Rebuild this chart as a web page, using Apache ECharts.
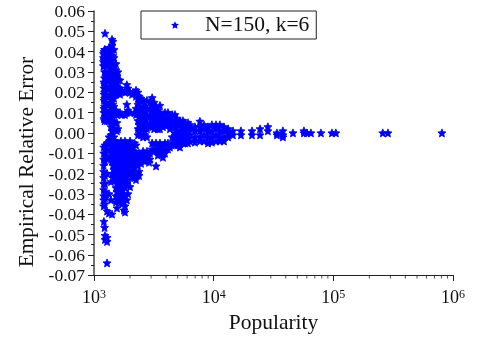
<!DOCTYPE html>
<html>
<head>
<meta charset="utf-8">
<style>
  html, body { margin: 0; padding: 0; background: #fff; }
  #chart { width: 485px; height: 339px; }
</style>
<script src="https://cdn.jsdelivr.net/npm/echarts@6/dist/echarts.min.js"></script>
</head>
<body>
<div id="chart"></div>
<script>
// popularity of each column of stars
const popularity = [
  1200, 1205, 1210, 1225, 1236, 1285, 1335, 1414, 1470, 1526, 1585, 1649, 1711, 1815, 1880,
  2000, 2120, 2245, 2380, 2570, 2770, 2890, 3060, 3300, 3558, 3770, 4150, 4500, 4750, 5225,
  5750, 6330, 6970, 7670, 8300, 8970, 9660, 10460, 11270, 12200, 13200, 14490, 16900, 20900,
  24400, 28400, 33800, 37900, 46000, 56800, 60200, 65000, 78800, 97300, 105000, 259000, 286000, 808000
];
// errors seen in each of those columns
const errors = [
  [.039, .037, .035, .033],
  [-.007, -.010, -.013, -.016, -.019, -.022, -.025, -.028, -.031, -.033, -.036],
  [.040, .036, .033, .025, .022, .019, .016, .012, .010, .007, -.0436],
  [.041, .038, .034, .030, .027, .024, .020, .017, .013, .010, .006, -.035, -.0466],
  [.049, .041, .037, .034, .030, .027, .023, .019, .015, .011, .008, -.006, -.010, -.014, -.021, -.025, -.029, -.032, -.0505, -.0525],
  [.040, .036, .033, .029, .026, .022, .018, .014, .010, .006, -.005, -.008, -.012, -.020, -.0385, -.0515, -.0535, -.064],
  [.042, .038, .034, .030, .026, .022, .018, .014, .010, .006, -.002, -.004, -.012, -.030, -.0395],
  [.046, .043, .040, .036, .032, .028, .024, .020, .016, .012, .008, .004, .001, -.003, -.006, -.010, -.014, -.020, -.040],
  [.041, .037, .033, .029, .025, .021, .017, .013, .009, .005, -.002, -.006, -.010, -.014, -.018, -.022],
  [.034, .031, .027, .023, .019, .011, -.007, -.011, -.015, -.019, -.023, -.027, -.031, -.034],
  [.030, .026, .022, .010, .002, -.005, -.009, -.013, -.017, -.021, -.025, -.029, -.033],
  [.026, .022, .019, .010, -.006, -.010, -.014, -.018, -.022, -.026, -.030],
  [.021, .009, -.007, -.011, -.015, -.019, -.023, -.028, -.032, -.035],
  [.020, .009, -.004, -.008, -.012, -.016, -.020, -.024, -.027, -.031, -.036, -.039],
  [.0237, .0205, .014, .010, -.005, -.009, -.013, -.017, -.021, -.025, -.033],
  [.020, .010, -.004, -.008, -.012, -.016, -.020, -.0265],
  [.020, -.007, -.011, -.015, -.019, -.022],
  [.021, .018, .012, .009, -.006, -.010, -.014, -.023],
  [.018, .015, .012, .008, .004, .001, -.010, -.014, -.019, -.021],
  [.016, .013, .010, .006, .003, -.002, -.009, -.013],
  [.016, .012, .009, .005, .002, -.002, -.009, -.012],
  [-.0145],
  [.0173, .014, .010, .006, .003, -.005, -.008],
  [.013, .010, .007, .004, -.005, -.008, -.0163],
  [.0135, .010, .007, .004, .002, -.005, -.007, -.010],
  [.009, .006, .003, -.006, -.009, -.012],
  [.010, .007, .004, -.005, -.008],
  [.009, .006, .003, -.002, -.005],
  [.009, .006, .003, .000, -.003, -.006],
  [.006, .004, .001, -.002, -.004, -.007],
  [.005, .003, .001, -.002, -.005],
  [.004, .002, -.001, -.004],
  [.003, .001, -.002, -.0046],
  [.0057, .003, .001, -.002, -.004],
  [.004, .002, -.001, -.004],
  [.003, .001, -.002, -.005],
  [.004, .001, -.002, -.0046],
  [.004, .002, -.001, -.004],
  [.004, .001, -.002, -.004],
  [.003, .001, -.002, -.004],
  [.002, .000, -.002],
  [.001, -.001],
  [.001, -.001],
  [.001, -.001],
  [.002, -.001],
  [.003, .001],
  [.000, -.001],
  [.001, -.001, -.002],
  [.000],
  [.000, .001],
  [.000],
  [.000],
  [.000],
  [.000],
  [.000],
  [.000],
  [.000],
  [.000]
];
// second pass over the dense part, columns between the ones above
const densePopularity = [1385, 1440, 1555, 1680, 1780, 1925, 2080, 2180, 2330, 2470, 2660, 2936, 3180, 3420, 3920, 4310, 4960, 5540, 6100];
const denseErrors = [
  [.035, .031, .027, .023, .019, .015, .011, .007, .003, -.001, -.005, -.008, -.013, -.024, -.033],
  [.045, .038, .034, .030, .026, .022, .018, .014, .010, .006, .002, -.004, -.008, -.012, -.016, -.020],
  [.028, .025, .021, .009, .005, .001, -.005, -.009, -.013, -.017, -.021, -.025, -.029, -.037],
  [-.004, -.008, -.012, -.016, -.020, -.024, -.030, -.034],
  [-.006, -.010, -.014, -.018, -.022, -.026, -.030, -.034, -.038],
  [.022, .011, -.007, -.011, -.015, -.019, -.023, -.030],
  [.019, -.006, -.010, -.014, -.018, -.021],
  [.010, -.005, -.009, -.013, -.017, -.022],
  [.020, .017, .014, .010, .006, .002, -.001, -.012, -.016, -.020],
  [.017, .011, .008, .005, .002, -.001, -.011, -.015],
  [.015, .011, .007, .004, .001, -.001, -.011, -.014],
  [.015, .012, .008, .004, -.010, -.013],
  [.015, .012, .008, .005, .002, -.009],
  [.011, .008, .005, .002, -.009, -.011],
  [.010, .007, .004, -.005, -.008, -.010],
  [.008, .005, .002, -.007],
  [.007, .004, .001, -.001, -.004, -.006],
  [.006, .003, .000, -.003, -.005],
  [.005, .002, -.001, -.003, -.005]
];
const minorTickValues = [2e3, 3e3, 4e3, 5e3, 6e3, 7e3, 8e3, 9e3, 2e4, 3e4, 4e4, 5e4, 6e4, 7e4, 8e4, 9e4, 2e5, 3e5, 4e5, 5e5, 6e5, 7e5, 8e5, 9e5];
const seriesName = "N=150, k=6";

// fatter than a true pentagram, the original marks are chunky
const starPath = "path://M50 0 L64 32 L98 35 L72 58 L80 92 L50 75 L20 92 L28 58 L2 35 L36 32Z";
const serif = "Liberation Serif";

let points = [];
function addColumns(xs, ys) {
  for (let i = 0; i < xs.length; i++) {
    for (let j = 0; j < ys[i].length; j++) {
      points.push([xs[i], ys[i][j]]);
    }
  }
}
addColumns(popularity, errors);
addColumns(densePopularity, denseErrors);

const chart = echarts.init(document.getElementById("chart"), null, { renderer: "canvas" });
chart.setOption({
  animation: false,
  backgroundColor: "#fff",
  grid: { left: 94, right: 32, top: 11, bottom: 62 },
  legend: {
    left: 141,
    top: 11,
    data: [{ name: seriesName, icon: starPath, itemStyle: { color: "#0000ff", borderWidth: 0 } }],
    itemWidth: 8,
    itemHeight: 8,
    padding: [3, 7, 3, 30],
    borderColor: "#222",
    borderWidth: 1,
    borderRadius: 0,
    textStyle: {
      fontFamily: serif,
      fontSize: 21.5,
      color: "#111",
      padding: [0, 0, 0, 21]
    }
  },
  xAxis: {
    type: "log",
    logBase: 10,
    min: 1000,
    max: 1000000,
    name: "Popularity",
    nameLocation: "middle",
    nameGap: 33,
    nameTextStyle: { fontFamily: serif, fontSize: 21.5, color: "#111" },
    splitLine: { show: false },
    axisLine: { onZero: false, lineStyle: { color: "#222", width: 1 } },
    axisTick: { length: 6, lineStyle: { color: "#222" } },
    axisLabel: {
      margin: 14,
      formatter: function (v) {
        return "{b|10}{e|" + Math.round(Math.log10(v)) + "}";
      },
      rich: {
        b: { fontFamily: serif, fontSize: 18, color: "#111" },
        e: { fontFamily: serif, fontSize: 12, color: "#111", verticalAlign: "top", padding: [0, 0, 6, 0] }
      }
    }
  },
  yAxis: {
    type: "value",
    min: -0.07,
    max: 0.06,
    interval: 0.01,
    name: "Empirical Relative Error",
    nameLocation: "middle",
    nameGap: 56,
    nameTextStyle: { fontFamily: serif, fontSize: 21.3, color: "#111", padding: [0, 38, 0, 0] },
    splitLine: { show: false },
    axisLine: { onZero: false, lineStyle: { color: "#444", width: 1.5 } },
    axisTick: { length: 6, lineStyle: { color: "#222" } },
    minorTick: { show: true, splitNumber: 2, length: 3, lineStyle: { color: "#222" } },
    minorSplitLine: { show: false },
    axisLabel: {
      margin: 9,
      formatter: function (v) {
        return "{t|" + v.toFixed(2) + "}";
      },
      rich: {
        // top padding nudges the digits down onto their ticks
        t: { fontFamily: serif, fontSize: 17.5, color: "#111", padding: [3, 0, 0, 0] }
      }
    }
  },
  series: [
    {
      name: seriesName,
      type: "scatter",
      symbol: starPath,
      symbolSize: 8,
      itemStyle: { color: "#0000ff", opacity: 1, borderColor: "#0000ff", borderWidth: 0.8 },
      data: points,
      z: 3
    },
    {
      // log axis minor ticks hang under the bottom line
      name: "minorTicks",
      type: "scatter",
      symbol: "rect",
      symbolSize: [1, 3],
      symbolOffset: [0, 2],
      clip: false,
      silent: true,
      itemStyle: { color: "#222" },
      data: minorTickValues.map(function (v) { return [v, -0.07]; }),
      z: 1
    }
  ]
});
</script>
</body>
</html>
